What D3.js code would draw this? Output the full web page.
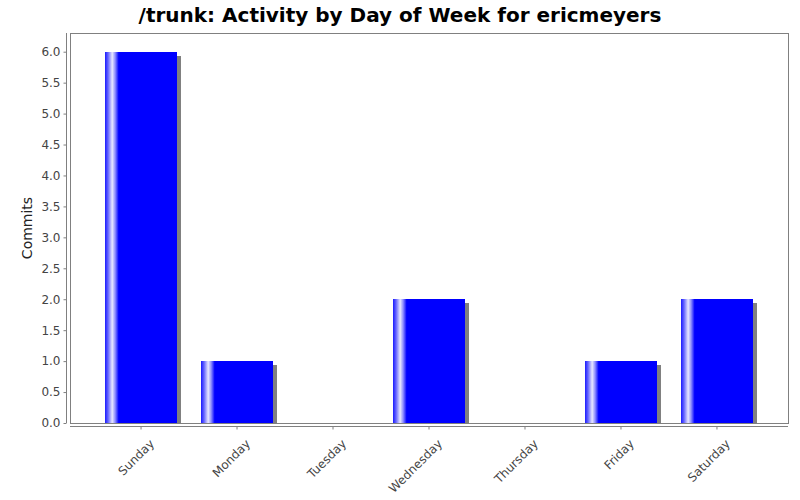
<!DOCTYPE html>
<html><head><meta charset="utf-8">
<script src="https://cdn.jsdelivr.net/npm/d3@7"></script>
<style>body{margin:0;background:#fff}svg{display:block}</style>
</head><body>
<script>
const title = "/trunk: Activity by Day of Week for ericmeyers";
const categories = ["Sunday","Monday","Tuesday","Wednesday","Thursday","Friday","Saturday"];
const commits = [6,1,0,2,0,1,2];
const yTicks = [0,0.5,1,1.5,2,2.5,3,3.5,4,4.5,5,5.5,6];
const yLabel = "Commits";

const W=800,H=500;
const plot={left:70,right:788,top:33,bottom:423};
const svg=d3.select("body").append("svg").attr("width",W).attr("height",H);
const defs=svg.append("defs");
const g=defs.append("linearGradient").attr("id","barGrad").attr("x1","0").attr("x2","1").attr("y1","0").attr("y2","0");
[[0,"#1a1aff"],[0.04,"#6060ff"],[0.10,"#e8e8ff"],[0.14,"#9090ff"],[0.19,"#0000ff"],[1,"#0000ff"]].forEach(([o,c])=>g.append("stop").attr("offset",o).attr("stop-color",c));

const x=d3.scaleBand().domain(categories).range([plot.left,plot.right]).paddingInner(0.25).paddingOuter(0.365);
const y=d3.scaleLinear().range([plot.bottom,plot.top]);
y.domain([0,(plot.bottom-plot.top)/((plot.bottom-51.7)/6)]);

svg.append("text").attr("x",400).attr("y",22).attr("text-anchor","middle")
  .attr("font-family","DejaVu Sans").attr("font-weight","bold").attr("font-size",20).text(title);

svg.append("rect").attr("x",plot.left).attr("y",plot.top).attr("width",plot.right-plot.left).attr("height",plot.bottom-plot.top)
  .attr("fill","#fff").attr("stroke","#808080").attr("stroke-width",1).attr("shape-rendering","crispEdges");

defs.append("clipPath").attr("id","pclip").append("rect").attr("x",plot.left).attr("y",plot.top).attr("width",plot.right-plot.left).attr("height",plot.bottom-plot.top);

const bars=svg.append("g").attr("clip-path","url(#pclip)");
categories.forEach((c,i)=>{
  const v=commits[i]; if(!v) return;
  const bx=x(c), bw=x.bandwidth(), by=y(v), bh=y(0)-y(v);
  bars.append("rect").attr("x",bx+4).attr("y",by+4).attr("width",bw).attr("height",bh).attr("fill","#808080").attr("shape-rendering","crispEdges");
  bars.append("rect").attr("x",bx).attr("y",by).attr("width",bw).attr("height",bh).attr("fill","url(#barGrad)").attr("shape-rendering","crispEdges");
});

const ya=svg.append("g").attr("transform",`translate(${plot.left-3.5},0)`)
  .call(d3.axisLeft(y).tickValues(yTicks).tickFormat(d3.format(".1f")).tickSize(3).tickPadding(3));
ya.select(".domain").attr("stroke","#808080").attr("d",`M0,${plot.top}V${plot.bottom}`);
ya.selectAll(".tick line").attr("stroke","#808080");
ya.selectAll("text").attr("font-family","DejaVu Sans").attr("font-size",12).attr("fill","#444");

const xa=svg.append("g").attr("transform",`translate(0,${plot.bottom+3.5})`)
  .call(d3.axisBottom(x).tickSize(3).tickPadding(4));
xa.select(".domain").attr("stroke","#808080").attr("d",`M${plot.left},0H${plot.right}`);
xa.selectAll(".tick line").attr("stroke","#808080");
xa.selectAll("text").attr("font-family","DejaVu Sans").attr("font-size",12).attr("fill","#444")
  .attr("text-anchor","end").attr("dy","0.35em")
  .attr("transform","translate(6,10) rotate(-45)");

svg.append("text").attr("transform",`translate(32,${(plot.top+plot.bottom)/2}) rotate(-90)`)
  .attr("text-anchor","middle").attr("font-family","DejaVu Sans").attr("font-size",14).attr("fill","#222").text(yLabel);
</script>
</body></html>
